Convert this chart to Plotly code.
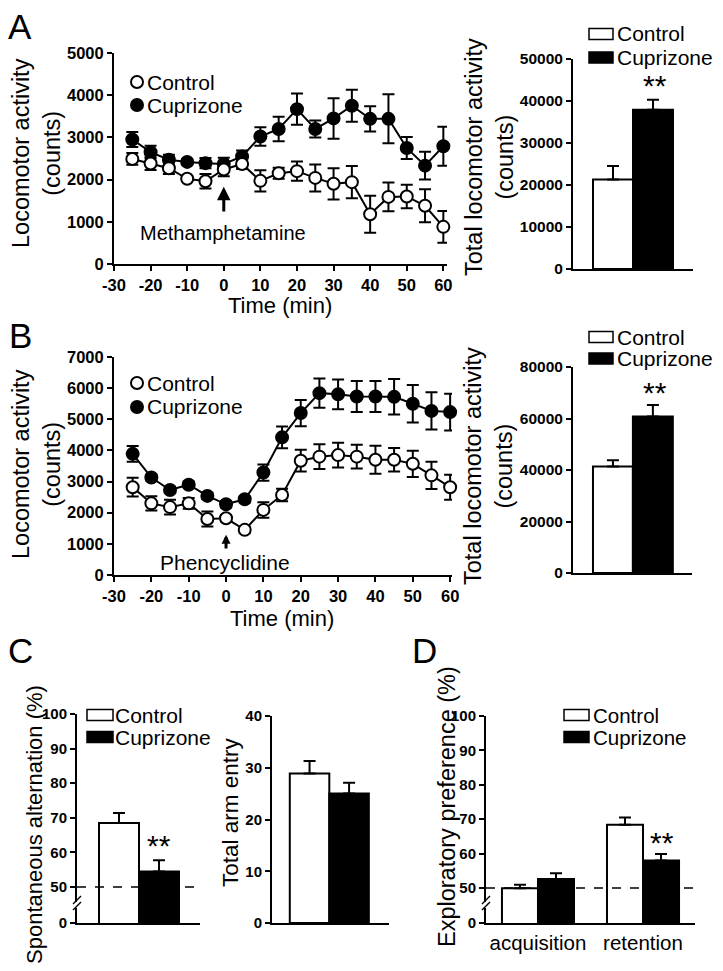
import plotly.graph_objects as go

W, H = 723, 971
FONT = "Liberation Sans, Arial, sans-serif"

# ---------------- data ----------------
time_min = [-25, -20, -15, -10, -5, 0, 5, 10, 15, 20, 25, 30, 35, 40, 45, 50, 55, 60]
time_ticks = [-30, -20, -10, 0, 10, 20, 30, 40, 50, 60]

meth_control = [2490, 2380, 2270, 2020, 1960, 2240, 2370, 1970, 2150, 2200, 2040, 1900, 1940, 1180, 1590, 1600, 1380, 880]
meth_control_sem = [140, 150, 140, 60, 170, 160, 120, 250, 130, 230, 320, 370, 380, 440, 340, 280, 390, 375]
meth_cupri = [2950, 2650, 2470, 2420, 2390, 2370, 2550, 3020, 3200, 3670, 3200, 3450, 3750, 3440, 3440, 2750, 2330, 2790]
meth_cupri_sem = [180, 150, 120, 60, 120, 150, 140, 220, 290, 370, 200, 480, 380, 300, 580, 260, 330, 460]

pcp_control = [2820, 2300, 2180, 2300, 1800, 1820, 1450, 2090, 2570, 3670, 3800, 3850, 3800, 3700, 3700, 3570, 3200, 2820]
pcp_control_sem = [300, 230, 240, 170, 240, 100, 100, 250, 200, 350, 400, 400, 380, 450, 380, 420, 440, 400]
pcp_cupri = [3890, 3130, 2730, 2900, 2540, 2270, 2430, 3290, 4420, 5200, 5840, 5800, 5730, 5730, 5720, 5500, 5270, 5230]
pcp_cupri_sem = [250, 100, 100, 100, 100, 100, 100, 260, 350, 420, 470, 480, 500, 500, 570, 600, 600, 590]

meth_ticks = [0, 1000, 2000, 3000, 4000, 5000]
pcp_ticks = [0, 1000, 2000, 3000, 4000, 5000, 6000, 7000]

groups = ["Control", "Cuprizone"]
meth_total = [21300, 37900]
meth_total_sem = [3200, 2400]
meth_total_ticks = [0, 10000, 20000, 30000, 40000, 50000]
pcp_total = [41400, 60800]
pcp_total_sem = [2400, 4400]
pcp_total_ticks = [0, 20000, 40000, 60000, 80000]
alternation = [68.5, 54.5]
alternation_sem = [2.9, 3.2]
arm_entry = [28.9, 25.0]
arm_entry_sem = [2.4, 2.1]
arm_ticks = [0, 10, 20, 30, 40]
phases = ["acquisition", "retention"]
explore_control = [49.9, 68.4]
explore_control_sem = [1.0, 2.1]
explore_cupri = [52.6, 58.0]
explore_cupri_sem = [1.7, 1.9]
pct_ticks = [50, 60, 70, 80, 90, 100]
CHANCE = 50
BREAK_C = 39.6
BREAK_D = 39.8

fills = ["white", "black"]


def px(x):
    return x / W


def py(y):
    return 1 - y / H


def xdom(a, b):
    return [a / W, b / W]


def ydom(top, bottom):
    return [1 - bottom / H, 1 - top / H]


def btxt(vals):
    return [f"<b>{v}</b>" for v in vals]


fig = go.Figure()

# line plots
for (xa, ya, ctrl, ctrl_sem, cup, cup_sem) in [
    ("x", "y", meth_control, meth_control_sem, meth_cupri, meth_cupri_sem),
    ("x3", "y3", pcp_control, pcp_control_sem, pcp_cupri, pcp_cupri_sem),
]:
    for vals, sem, fill, name in [(cup, cup_sem, "black", "Cuprizone"), (ctrl, ctrl_sem, "white", "Control")]:
        fig.add_trace(go.Scatter(
            x=time_min, y=vals, name=name, mode="lines+markers",
            line=dict(color="black", width=2),
            marker=dict(size=12, color=fill, line=dict(color="black", width=2)),
            error_y=dict(type="data", array=sem, thickness=2, width=6, color="black"),
            xaxis=xa, yaxis=ya, showlegend=False, cliponaxis=False))

# two-bar panels
for (xa, ya, vals, sems) in [
    ("x2", "y2", meth_total, meth_total_sem),
    ("x4", "y4", pcp_total, pcp_total_sem),
    ("x5", "y5", alternation, alternation_sem),
    ("x6", "y6", arm_entry, arm_entry_sem),
]:
    for i, g in enumerate(groups):
        fig.add_trace(go.Bar(
            x=[i], y=[vals[i]], name=g, width=1,
            marker=dict(color=fills[i], line=dict(color="black", width=2)),
            error_y=dict(type="data", array=[sems[i]], arrayminus=[0], symmetric=False,
                         thickness=2, width=6, color="black"),
            xaxis=xa, yaxis=ya, showlegend=False))

# panel D grouped bars
BW = 0.343
for vals, sems, fill, off, name in [
    (explore_control, explore_control_sem, "white", -BW, "Control"),
    (explore_cupri, explore_cupri_sem, "black", 0, "Cuprizone"),
]:
    fig.add_trace(go.Bar(
        x=list(range(len(phases))), y=vals, name=name, width=BW, offset=off,
        marker=dict(color=fill, line=dict(color="black", width=2)),
        error_y=dict(type="data", array=sems, arrayminus=[0] * len(sems), symmetric=False,
                     thickness=2, width=6, color="black"),
        xaxis="x7", yaxis="y7", showlegend=False))

axis_common = dict(showline=True, linecolor="black", linewidth=2, ticks="outside",
                   ticklen=5, tickwidth=2, tickcolor="black", showgrid=False,
                   zeroline=False, fixedrange=True)
tf15 = dict(family=FONT, size=16.5, color="black")
tfbar = dict(family=FONT, size=15.5, color="black")
tf14 = dict(family=FONT, size=15, color="black")

layout = dict(
    width=W, height=H, margin=dict(l=0, r=0, t=0, b=0, autoexpand=False),
    paper_bgcolor="white", plot_bgcolor="white", barmode="overlay",
    showlegend=False, font=dict(family=FONT, color="black"),
    # A line
    xaxis=dict(axis_common, domain=xdom(114, 447), range=[-30, 61], anchor="y",
               tickvals=time_ticks, ticktext=btxt(time_ticks), tickfont=tf15),
    yaxis=dict(axis_common, domain=ydom(53, 264), range=[0, 5000], anchor="x",
               tickvals=meth_ticks, ticktext=btxt(meth_ticks), tickfont=tf15),
    # A bar
    xaxis2=dict(axis_common, domain=xdom(573, 693), range=[-1, 2], anchor="y2",
                ticks="", showticklabels=False),
    yaxis2=dict(axis_common, domain=ydom(59, 269), range=[0, 50000], anchor="x2",
                tickvals=meth_total_ticks, ticktext=btxt(meth_total_ticks), tickfont=tfbar),
    # B line
    xaxis3=dict(axis_common, domain=xdom(114, 452), range=[-30, 60.5], anchor="y3",
                tickvals=time_ticks, ticktext=btxt(time_ticks), tickfont=tf15),
    yaxis3=dict(axis_common, domain=ydom(357, 575), range=[0, 7000], anchor="x3",
                tickvals=pcp_ticks, ticktext=btxt(pcp_ticks), tickfont=tf15),
    # B bar
    xaxis4=dict(axis_common, domain=xdom(573, 692), range=[-1, 1.98], anchor="y4",
                ticks="", showticklabels=False),
    yaxis4=dict(axis_common, domain=ydom(367, 573), range=[0, 80000], anchor="x4",
                tickvals=pcp_total_ticks, ticktext=btxt(pcp_total_ticks), tickfont=tfbar),
    # C alternation
    xaxis5=dict(axis_common, domain=xdom(77, 200), range=[-1.05, 2.025], anchor="y5",
                ticks="", showticklabels=False),
    yaxis5=dict(axis_common, domain=ydom(714, 923), range=[BREAK_C, 100], anchor="x5",
                tickvals=[BREAK_C] + pct_ticks, ticktext=btxt([0] + pct_ticks), tickfont=tf14),
    # C arm entry
    xaxis6=dict(axis_common, domain=xdom(272, 389), range=[-0.95, 2.01], anchor="y6",
                ticks="", showticklabels=False),
    yaxis6=dict(axis_common, domain=ydom(716, 923), range=[0, 40], anchor="x6",
                tickvals=arm_ticks, ticktext=btxt(arm_ticks), tickfont=tf14),
    # D
    xaxis7=dict(axis_common, domain=xdom(486, 695), range=[-0.495, 1.495], anchor="y7",
                ticks="", tickvals=list(range(len(phases))), ticktext=phases,
                tickfont=dict(family=FONT, size=20.5, color="black")),
    yaxis7=dict(axis_common, domain=ydom(716, 923), range=[BREAK_D, 100], anchor="x7",
                tickvals=[BREAK_D] + pct_ticks, ticktext=btxt([0] + pct_ticks), tickfont=tf14),
)
fig.update_layout(**layout)

ann = []
shapes = []


def text(x, y, s, size, xanchor="center", angle=0, yanchor="middle"):
    ann.append(dict(x=px(x), y=py(y), xref="paper", yref="paper", text=s, showarrow=False,
                    xanchor=xanchor, yanchor=yanchor, textangle=angle,
                    font=dict(family=FONT, size=size, color="black")))


# panel letters
text(20, 26, "A", 35)
text(20, 335, "B", 35)
text(20, 650, "C", 35)
text(424, 650, "D", 35)

# axis titles
text(37, 153, "Locomotor activity<br>(counts)", 23.5, angle=-90)
text(37, 464, "Locomotor activity<br>(counts)", 23.5, angle=-90)
text(489, 157, "Total locomotor activity<br>(counts)", 23.5, angle=-90)
text(489, 466, "Total locomotor activity<br>(counts)", 23.5, angle=-90)
text(280, 306, "Time (min)", 22)
text(282, 618, "Time (min)", 22)
text(34, 825, "Spontaneous alternation (%)", 22, angle=-90)
text(230, 812, "Total arm entry", 22.5, angle=-90)
text(447, 807, "Exploratory preference (%)", 23.5, angle=-90)

# drug labels
text(223, 233, "Methamphetamine", 20)
text(225, 562, "Phencyclidine", 21)

# significance marks
text(655, 85, "**", 30)
text(655, 392, "**", 30)
text(159, 845, "**", 30)
text(662, 842, "**", 30)

# arrows (drug injection at t=0)
for xa, ya, y_tip, y_tail, asz in [("x", "y", 1830, 1210, 0.9), ("x3", "y3", 1290, 800, 0.6)]:
    ann.append(dict(x=0, y=y_tip, ax=0, ay=y_tail, xref=xa, yref=ya, axref=xa, ayref=ya,
                    text="", showarrow=True, arrowhead=2, arrowsize=asz, arrowwidth=3,
                    arrowcolor="black"))

# legends for line plots
for yc, yu in [(82, 105), (383, 407)]:
    for yy, fill, lab in [(yc, "white", "Control"), (yu, "black", "Cuprizone")]:
        shapes.append(dict(type="circle", xref="paper", yref="paper",
                           x0=px(131), x1=px(143), y0=py(yy + 6), y1=py(yy - 6),
                           fillcolor=fill, line=dict(color="black", width=2)))
        text(145, yy, lab, 21, xanchor="left")

# legends for bar plots
for bx0, bx1, tx, c1, c2 in [(589, 613, 615, 34, 57.5), (589, 613, 615, 337, 358.5),
                             (87, 113, 113, 715, 737), (564, 589, 591, 715, 737)]:
    for yy, fill, lab in [(c1, "white", "Control"), (c2, "black", "Cuprizone")]:
        shapes.append(dict(type="rect", xref="paper", yref="paper",
                           x0=px(bx0), x1=px(bx1), y0=py(yy + 5.5), y1=py(yy - 5.5),
                           fillcolor=fill, line=dict(color="black", width=1.5)))
        text(tx, yy, lab, 21 if bx0 != 564 else 20.5, xanchor="left")

# chance-level dashed lines
for xa, ya, x1 in [("x5", "y5", 0.976), ("x7", "y7", 1.0)]:
    shapes.append(dict(type="line", xref=f"{xa} domain", yref=ya, x0=0, x1=x1,
                       y0=CHANCE, y1=CHANCE, line=dict(color="black", width=1.5, dash="dash")))

# axis break marks
for xa_px in [77, 486]:
    shapes.append(dict(type="rect", xref="paper", yref="paper",
                       x0=px(xa_px - 3), x1=px(xa_px + 3), y0=py(908), y1=py(902),
                       fillcolor="white", line=dict(width=0)))
    for yb in [910, 904]:
        shapes.append(dict(type="line", xref="paper", yref="paper",
                           x0=px(xa_px - 4), x1=px(xa_px + 4), y0=py(yb), y1=py(yb - 8),
                           line=dict(color="black", width=1.5)))

fig.update_layout(annotations=ann, shapes=shapes)
fig.write_html("out.html", config={"displayModeBar": False},
               post_script="document.body.style.margin='0';document.body.style.padding='0';")
